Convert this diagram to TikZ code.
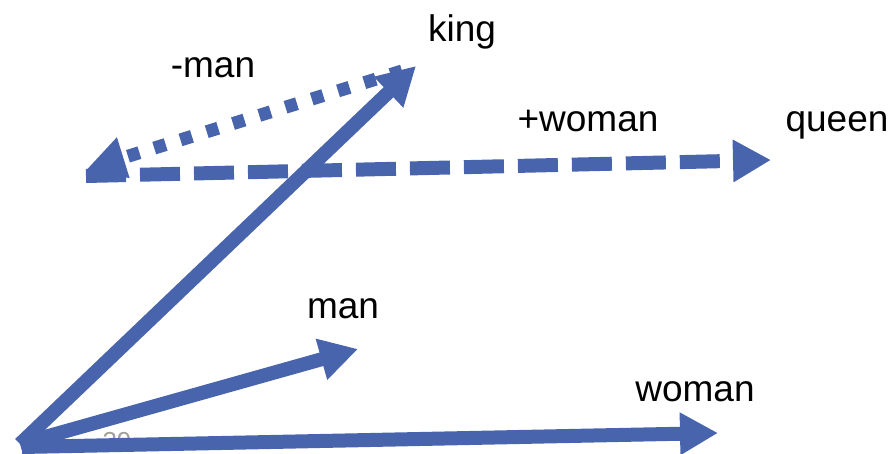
\documentclass[tikz,border=0pt]{standalone}
\usepackage{fontspec}
\setmainfont{Liberation Sans}
\usetikzlibrary{arrows.meta}
\definecolor{vecblue}{HTML}{4864AC}
\definecolor{pagegray}{HTML}{A0A0A0}
\begin{document}
\begin{tikzpicture}[x=1pt,y=-1pt,
  vec/.style={draw=vecblue,line width=14pt,-{Triangle[length=38pt,width=40pt]},vecblue},
  lbl/.style={font=\fontsize{37}{40}\selectfont,anchor=base,inner sep=0pt},
  dotline/.style={dash pattern=on 12pt off 15.5pt},
  dashline/.style={dash pattern=on 40pt off 14pt}]
\useasboundingbox (0,0) rectangle (891,454);
% page number (mostly hidden)
\node[font=\fontsize{26}{28}\selectfont,text=pagegray,anchor=base,inner sep=0pt] (pg) at (117,450) {39};
% points
\coordinate (o) at (20,444);
\coordinate (ow) at (22,447);
\coordinate (k) at (416,66);
\coordinate (m) at (358,349);
\coordinate (w) at (718,433);
\coordinate (p) at (86,176);
\coordinate (pm) at (87,169);
\coordinate (q) at (771,160);
% vectors
\draw[vec] (o) -- (k);
\draw[vec] (o) -- (m);
\draw[vec] (ow) -- (w);
\draw[vec,dotline,line width=13pt] (402,71) -- (pm);
\draw[vec,dashline] (p) -- (q);
% labels
\node[lbl] (lking) at (462,42) {king};
\node[lbl] (lmman) at (213,78) {-man};
\node[lbl] (lpw) at (588,132) {+woman};
\node[lbl] (lq) at (837,132) {queen};
\node[lbl] (lman) at (343,318) {man};
\node[lbl] (lw) at (695,401) {woman};
\end{tikzpicture}
\end{document}
